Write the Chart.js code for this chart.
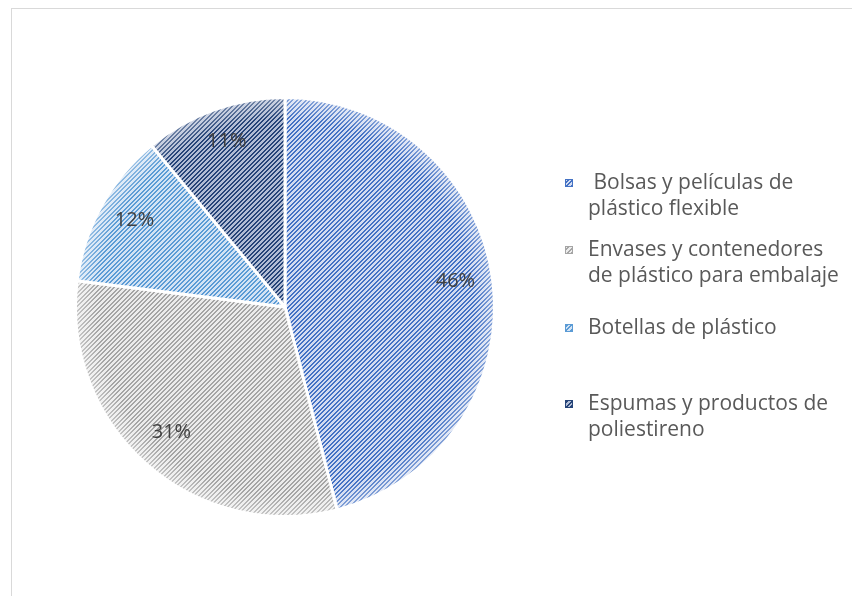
<!DOCTYPE html>
<html>
<head>
<meta charset="utf-8">
<script src="https://cdn.jsdelivr.net/npm/chart.js@4"></script>
<style>
  html, body { margin: 0; padding: 0; background: #ffffff; }
  #wrap { width: 852px; height: 596px; }
</style>
</head>
<body>
<div id="wrap"><canvas id="c" width="852" height="596"></canvas></div>
<script>
// Categories and their shares (percent)
const categories = [
  [" Bolsas y películas de", "plástico flexible"],
  ["Envases y contenedores", "de plástico para embalaje"],
  ["Botellas de plástico"],
  ["Espumas y productos de", "poliestireno"]
];
const shares = [46, 31, 12, 11];

// Stripe colours (line colour, background colour) for each slice
const stripeInk = ["#4472c4", "#a5a5a5", "#5b9bd5", "#264478"];
const stripeBg  = ["#d3dcf1", "#ececec", "#d3e3f4", "#b2bdd5"];

const FONT = "'Open Sans', sans-serif";

// Build a "wide upward diagonal" hatch pattern
function hatch(ink, bg) {
  const n = 9;
  const t = document.createElement("canvas");
  t.width = n; t.height = n;
  const g = t.getContext("2d");
  g.fillStyle = bg;
  g.fillRect(0, 0, n, n);
  g.fillStyle = ink;
  for (let y = 0; y < n; y++) {
    for (let x = 0; x < n; x++) {
      const k = (x + y) % n;
      if (k === 0 || k === 1 || k === 4 || k === 5) g.fillRect(x, y, 1, 1);
    }
  }
  return g.createPattern(t, "repeat");
}

const ctx0 = document.getElementById("c").getContext("2d");
const fills = stripeInk.map((c, i) => hatch(c, stripeBg[i]));

// Frame, white background
const framePlugin = {
  id: "frame",
  beforeDraw(chart) {
    const g = chart.ctx;
    g.save();
    g.fillStyle = "#ffffff";
    g.fillRect(0, 0, chart.width, chart.height);
    g.strokeStyle = "#d9d9d9";
    g.lineWidth = 1;
    g.strokeRect(11.5, 8.5, chart.width + 20, chart.height + 20);
    g.restore();
  }
};

// Soft lightening near the rim of the pie
const rimPlugin = {
  id: "rim",
  afterDatasetsDraw(chart) {
    const arc = chart.getDatasetMeta(0).data[0];
    if (!arc) return;
    const { x, y, outerRadius: r } = arc.getProps(["x", "y", "outerRadius"], true);
    const g = chart.ctx;
    g.save();
    g.beginPath();
    g.arc(x, y, r + 0.5, 0, Math.PI * 2);
    g.clip();
    const grad = g.createRadialGradient(x, y, r * 0.9, x, y, r + 1);
    grad.addColorStop(0, "rgba(255,255,255,0)");
    grad.addColorStop(1, "rgba(255,255,255,0.4)");
    g.fillStyle = grad;
    g.fillRect(x - r - 2, y - r - 2, 2 * r + 4, 2 * r + 4);
    g.restore();
  }
};

// Percentage labels inside each slice
const valueLabelPlugin = {
  id: "valueLabels",
  afterDatasetsDraw(chart) {
    const meta = chart.getDatasetMeta(0);
    const vals = chart.data.datasets[0].data;
    const g = chart.ctx;
    g.save();
    g.font = "20px " + FONT;
    g.fillStyle = "#404040";
    g.textAlign = "center";
    g.textBaseline = "middle";
    meta.data.forEach((arc, i) => {
      const p = arc.getProps(["x", "y", "startAngle", "endAngle", "outerRadius"], true);
      const mid = (p.startAngle + p.endAngle) / 2;
      const d = p.outerRadius * 0.82;
      g.fillText(vals[i] + "%", p.x + Math.cos(mid) * d, p.y + Math.sin(mid) * d - 4);
    });
    g.restore();
  }
};

// Legend on the right with wrapped entries
const sideLegendPlugin = {
  id: "sideLegend",
  afterDraw(chart, args, opts) {
    const g = chart.ctx;
    const ds = chart.data.datasets[0];
    g.save();
    g.font = "21px " + FONT;
    g.textAlign = "left";
    g.textBaseline = "middle";
    chart.data.labels.forEach((lines, i) => {
      const y0 = opts.rows[i];
      g.fillStyle = stripeInk[i];
      g.fillRect(opts.markerX, y0 - 4, 8, 8);
      g.fillStyle = ds.backgroundColor[i];
      g.fillRect(opts.markerX + 1, y0 - 3, 6, 6);
      g.fillStyle = "#595959";
      lines.forEach((t, j) => g.fillText(t, opts.textX, y0 + j * opts.lineHeight));
    });
    g.restore();
  }
};

new Chart(ctx0, {
  type: "pie",
  data: {
    labels: categories,
    datasets: [{
      data: shares,
      backgroundColor: fills,
      borderColor: "#ffffff",
      borderWidth: 3,
      hoverOffset: 0
    }]
  },
  options: {
    responsive: false,
    animation: false,
    rotation: 0,
    layout: { padding: { left: 74, right: 356, top: 96, bottom: 78 } },
    plugins: {
      legend: { display: false },
      tooltip: { enabled: false },
      sideLegend: { markerX: 565, textX: 588, lineHeight: 26, rows: [183, 250, 328, 404] }
    },
    events: []
  },
  plugins: [framePlugin, rimPlugin, valueLabelPlugin, sideLegendPlugin]
});
</script>
</body>
</html>
